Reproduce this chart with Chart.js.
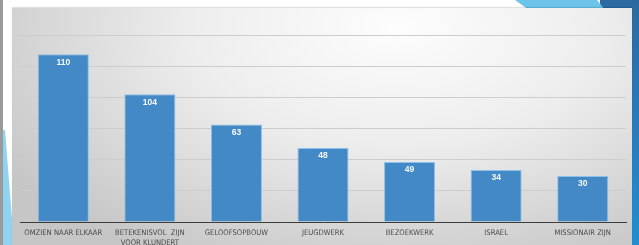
<!DOCTYPE html>
<html>
<head>
<meta charset="utf-8">
<script src="https://cdn.jsdelivr.net/npm/chart.js@4/dist/chart.umd.min.js"></script>
<style>
  html, body { margin: 0; padding: 0; width: 639px; height: 245px; overflow: hidden; background: #ffffff; }
  #stripe { position: absolute; left: 0; top: 0; width: 3px; height: 245px; background: #9a9a9a; }
  #tri { position: absolute; left: 0; top: 0; width: 14px; height: 245px; background: #8fd3f0;
         clip-path: polygon(3px 130px, 5px 130px, 14px 245px, 3px 245px); }
  #rightblue { position: absolute; left: 600px; top: 0; width: 39px; height: 245px;
         background: linear-gradient(180deg, #2b6aa0 0%, #2a78b8 45%, #1f8fd2 100%); }
  #topcyan { position: absolute; left: 505px; top: 0; width: 100px; height: 10px; background: #6cc4ea;
         clip-path: polygon(10px 0, 92px 0, 100px 10px, 24px 10px); }
  #panel { position: absolute; left: 12px; top: 8px; width: 620px; height: 240px;
         background: radial-gradient(ellipse 75% 110% at 62% 8%, #fdfdfd 0%, #ededed 45%, #d4d4d4 80%, #c6c6c6 100%);
         box-shadow: 0 -1px 1px rgba(0,0,0,0.12); }
  #wrap { position: absolute; left: 0; top: 0; width: 639px; height: 245px; }
</style>
</head>
<body>
<div id="stripe"></div>
<div id="tri"></div>
<div id="rightblue"></div>
<div id="topcyan"></div>
<div id="panel"></div>
<div id="wrap"><canvas id="c" width="639" height="245"></canvas></div>
<script>
const categories = [
  'OMZIEN NAAR ELKAAR',
  ['BETEKENISVOL  ZIJN', 'VOOR KLUNDERT'],
  'GELOOFSOPBOUW',
  'JEUGDWERK',
  'BEZOEKWERK',
  'ISRAEL',
  'MISSIONAIR ZIJN'
];
// bar heights as drawn in the picture
const barValues = [107.6, 82, 62.6, 47.5, 38.5, 33.4, 29.5];
// labels printed on the bars
const barLabels = ['110', '104', '63', '48', '49', '34', '30'];
const yMin = 0, yMax = 120, yStep = 20;

const valueLabelPlugin = {
  id: 'valueLabels',
  afterDatasetsDraw(chart) {
    const ctx = chart.ctx;
    const meta = chart.getDatasetMeta(0);
    ctx.save();
    ctx.fillStyle = '#f4f8fc';
    ctx.font = 'bold 8.5px "Liberation Sans", Arial, sans-serif';
    ctx.textAlign = 'center';
    ctx.textBaseline = 'middle';
    meta.data.forEach((bar, i) => {
      ctx.fillText(barLabels[i], bar.x, bar.y + 8);
    });
    ctx.restore();
  }
};

new Chart(document.getElementById('c'), {
  type: 'bar',
  data: {
    labels: categories,
    datasets: [{
      data: barValues,
      backgroundColor: '#4289c6',
      borderColor: '#8ec0e8',
      borderWidth: 1,
      borderSkipped: 'bottom',
      barPercentage: 0.59,
      categoryPercentage: 1.0
    }]
  },
  options: {
    responsive: false,
    animation: false,
    devicePixelRatio: 1,
    layout: { padding: { left: 20, right: 13, top: 35, bottom: 0 } },
    plugins: { legend: { display: false }, tooltip: { enabled: false } },
    scales: {
      x: {
        grid: { display: false, drawTicks: false },
        border: { display: true, color: '#3c3c3c', width: 1 },
        ticks: {
          color: '#4a4a4a',
          font: { family: '"DejaVu Sans Condensed", "Liberation Sans Narrow", sans-serif', size: 7.6, lineHeight: 1.3 },
          padding: 6,
          maxRotation: 0,
          autoSkip: false
        },
        afterFit(scale) { scale.height = 23; }
      },
      y: {
        min: yMin, max: yMax,
        ticks: { display: false, stepSize: yStep },
        grid: { color: '#cdcdcd', lineWidth: 1, drawTicks: false },
        border: { display: false },
        afterFit(scale) { scale.width = 0; }
      }
    }
  },
  plugins: [valueLabelPlugin]
});
</script>
</body>
</html>
